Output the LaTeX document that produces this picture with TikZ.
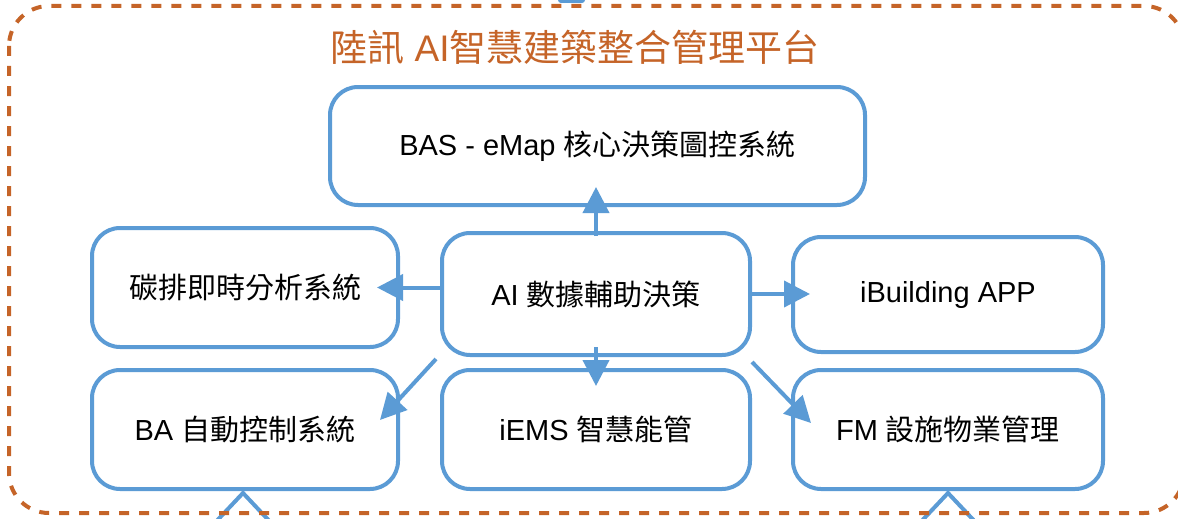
\documentclass[tikz,border=0pt]{standalone}
\usepackage{fontspec}
\setmainfont{Liberation Sans}
\newfontfamily\cjk{Noto Sans CJK TC}
\usetikzlibrary{arrows.meta}
\definecolor{boxblue}{RGB}{91,155,213}
\definecolor{frameorange}{RGB}{197,100,40}

\begin{document}
\begin{tikzpicture}[x=1pt,y=-1pt]

    % Define styles
    \tikzstyle{module} = [rectangle, draw=boxblue, line width=4pt, rounded corners=28pt, fill=white, text centered, font=\fontsize{29}{34}\selectfont]
    \tikzstyle{link} = [draw=boxblue, line width=4pt, -{Triangle[length=26pt,width=26pt]}]
    \tikzstyle{frame} = [draw=frameorange, line width=4pt, dash pattern=on 10pt off 10pt, rounded corners=40pt]
    \tikzstyle{heading} = [text=frameorange, font=\fontsize{37}{42}\selectfont]

    \useasboundingbox (0,0) rectangle (1178,519);
    \clip (0,0) rectangle (1178,519);

    % Parts cut off at the edges
    \fill[boxblue, rounded corners=3pt] (558,-10) rectangle (585,3);
    \draw[boxblue, line width=4pt] (211,527) -- (243,493) -- (275,527);
    \draw[boxblue, line width=4pt] (916,527) -- (948,493) -- (980,527);

    % Platform frame
    \draw[frame] (9,6) rectangle (1184,513);
    \node[heading] (title) at (575,47) {{\cjk 陸訊} AI{\cjk 智慧建築整合管理平台}};

    % Modules
    \node[module, minimum width=535pt, minimum height=118pt] (bas) at (597.5,146) {BAS - eMap {\cjk 核心決策圖控系統}};
    \node[module, minimum width=306pt, minimum height=119pt] (carbon) at (245,287.5) {\cjk 碳排即時分析系統};
    \node[module, minimum width=308pt, minimum height=122pt] (ai) at (596,294) {AI {\cjk 數據輔助決策}};
    \node[module, minimum width=310pt, minimum height=115pt] (app) at (948,294.5) {iBuilding APP};
    \node[module, minimum width=306pt, minimum height=119pt] (ba) at (245,429.5) {BA {\cjk 自動控制系統}};
    \node[module, minimum width=308pt, minimum height=119pt] (iems) at (596,429.5) {iEMS {\cjk 智慧能管}};
    \node[module, minimum width=310pt, minimum height=119pt] (fm) at (948,429.5) {FM {\cjk 設施物業管理}};

    % Decision flows
    \draw[link, shorten <=-5pt, shorten >=-20pt] (ai.north) -- (ai.north |- bas.south);
    \draw[link, shorten >=-23pt] (ai.west |- carbon.east) -- (carbon.east);
    \draw[link, shorten >=-19pt] (ai.east) -- (ai.east -| app.west);
    \draw[link, shorten <=-10pt, shorten >=-18pt] (ai.south) -- (ai.south |- iems.north);
    \draw[link] ([shift={(-4,2)}]ai.south west) -- ([shift={(-20,52)}]ba.north east);
    \draw[link] ([shift={(0,5)}]ai.south east) -- ([shift={(20,55)}]fm.north west);

\end{tikzpicture}
\end{document}
